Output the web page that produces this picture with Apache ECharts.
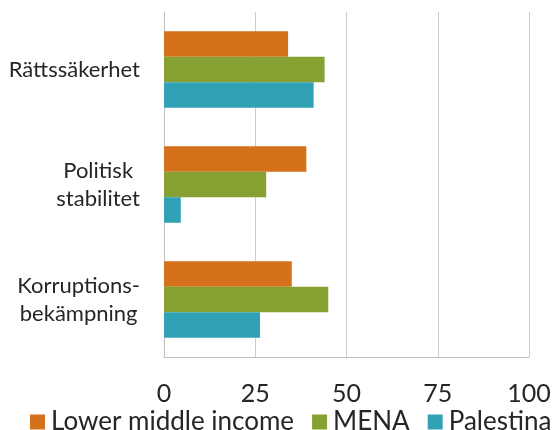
<!DOCTYPE html>
<html>
<head>
<meta charset="utf-8">
<script src="https://cdn.jsdelivr.net/npm/echarts@6/dist/echarts.min.js"></script>
<style>
  html, body { margin: 0; padding: 0; background: #fff; }
  #chart { width: 558px; height: 430px; }
</style>
</head>
<body>
<div id="chart"></div>
<script>
    // data
    var categories = ['Rättssäkerhet', 'Politisk\nstabilitet', 'Korruptions-\nbekämpning'];
    var seriesNames = ['Lower middle income', 'MENA', 'Palestina'];
    var lowerMiddle = [34, 39, 35];
    var mena = [44, 28, 45];
    var palestina = [41, 4.6, 26.3];
    var tickValues = [0, 25, 50, 75, 100];

    var colors = ['#d4711a', '#86a132', '#31a1b5'];
    var fontName = 'Lato';

    var dom = document.getElementById('chart');
    var myChart = echarts.init(dom);

    function barSeries(name, data, color) {
        return {
            name: name,
            type: 'bar',
            data: data,
            barWidth: 25.5,
            barGap: '0%',
            itemStyle: { color: color },
            emphasis: { disabled: true }
        };
    }

    var option = {
        animation: false,
        textStyle: { fontFamily: fontName },
        grid: { left: 164, right: 29, top: 12, bottom: 73 },
        legend: {
            left: 25,
            top: 404,
            width: 560,
            itemWidth: 15,
            itemHeight: 15,
            itemGap: 18,
            icon: 'rect',
            textStyle: { fontSize: 26, color: '#262626', fontFamily: fontName, padding: [0, 0, 0, 1] },
            data: seriesNames
        },
        xAxis: {
            type: 'value',
            min: tickValues[0],
            max: tickValues[tickValues.length - 1],
            interval: 25,
            axisLine: { show: true, lineStyle: { color: '#bfbfbf', width: 1 } },
            axisTick: { show: false },
            splitLine: { show: true, lineStyle: { color: '#cccccc', width: 1 } },
            axisLabel: { fontSize: 25, color: '#262626', margin: 24, fontFamily: fontName }
        },
        yAxis: {
            type: 'category',
            inverse: true,
            data: categories,
            axisLine: { show: true, lineStyle: { color: '#bfbfbf', width: 1 } },
            axisTick: { show: false },
            axisLabel: {
                margin: 24,
                align: 'right',
                formatter: function (value) {
                    return value.split('\n').map(function (l) { return '{c|' + l + '}'; }).join('\n');
                },
                rich: {
                    c: { fontSize: 22, color: '#262626', align: 'center', lineHeight: 28, fontFamily: fontName }
                }
            }
        },
        series: [
            barSeries(seriesNames[0], lowerMiddle, colors[0]),
            barSeries(seriesNames[1], mena, colors[1]),
            barSeries(seriesNames[2], palestina, colors[2])
        ]
    };

    myChart.setOption(option);
</script>
</body>
</html>
